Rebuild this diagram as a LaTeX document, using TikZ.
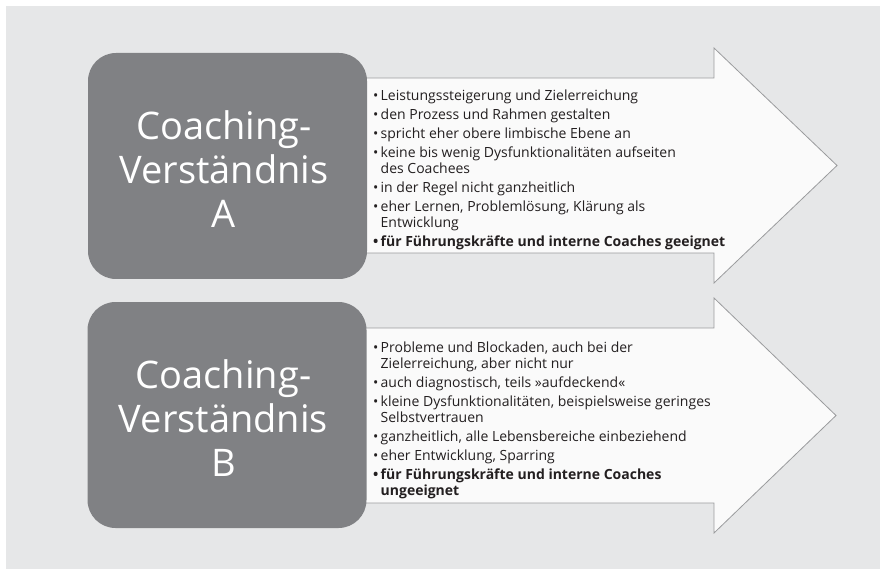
\documentclass[tikz,border=0pt]{standalone}
\usepackage{fontspec}
\setmainfont{Open Sans}
\definecolor{bg}{HTML}{E6E7E8}
\definecolor{boxgray}{HTML}{808184}
\definecolor{arrowfill}{HTML}{FAFAFA}
\definecolor{arrowline}{HTML}{9A9B9D}
\definecolor{txt}{HTML}{231F20}
\newcommand\bul{\makebox[7.5pt][l]{\textbullet}}
\tikzset{
  bigbox/.style={draw=none, fill=boxgray, rounded corners=28pt, minimum width=279pt, minimum height=226pt, inner sep=0pt},
  bigtext/.style={text=white, align=center, font={\fontsize{38}{44}\selectfont}, inner sep=0pt},
  arrowshape/.style={draw=arrowline, fill=arrowfill, line width=0.8pt},
  listtext/.style={anchor=west, inner sep=0pt, text=txt, font={\fontsize{14}{16}\selectfont}}
}
\begin{document}
\begin{tikzpicture}[x=1pt,y=-1pt]
\useasboundingbox (0,0) rectangle (883,569);
\fill[bg] (6,6) rectangle (880,569);
% arrow A
\draw[arrowshape] (362,78) -- (714,78) -- (714,48) -- (837,165.5) -- (714,283) -- (714,253) -- (362,253) -- cycle;
% arrow B
\draw[arrowshape] (362,328) -- (714,328) -- (714,298) -- (836,415.5) -- (714,533) -- (714,503) -- (362,503) -- cycle;
% boxes
\node[bigbox] (boxA) at (227.5,166) {};
\node[bigtext] (labA) at (224,169.5) {Coaching-\\Verständnis\\A};
\node[bigbox] (boxB) at (227,415) {};
\node[bigtext] (labB) at (223.5,418.5) {Coaching-\\Verständnis\\B};
% lists
\node[listtext] (listA) at (373,170) {%
\begin{tabular}{@{}l@{}l@{}}
\bul & Leistungssteigerung und Zielerreichung\\[3pt]
\bul & den Prozess und Rahmen gestalten\\[3pt]
\bul & spricht eher obere limbische Ebene an\\[3pt]
\bul & keine bis wenig Dysfunktionalitäten aufseiten\\
     & des Coachees\\[3pt]
\bul & in der Regel nicht ganzheitlich\\[3pt]
\bul & eher Lernen, Problemlösung, Klärung als\\
     & Entwicklung\\[3pt]
\textbf{\bul} & \textbf{für Führungskräfte und interne Coaches geeignet}
\end{tabular}};
\node[listtext] (listB) at (373,421) {%
\begin{tabular}{@{}l@{}l@{}}
\bul & Probleme und Blockaden, auch bei der\\
     & Zielerreichung, aber nicht nur\\[3pt]
\bul & auch diagnostisch, teils »aufdeckend«\\[3pt]
\bul & kleine Dysfunktionalitäten, beispielsweise geringes\\
     & Selbstvertrauen\\[3pt]
\bul & ganzheitlich, alle Lebensbereiche einbeziehend\\[3pt]
\bul & eher Entwicklung, Sparring\\[3pt]
\textbf{\bul} & \textbf{für Führungskräfte und interne Coaches}\\
     & \textbf{ungeeignet}
\end{tabular}};
\end{tikzpicture}
\end{document}
